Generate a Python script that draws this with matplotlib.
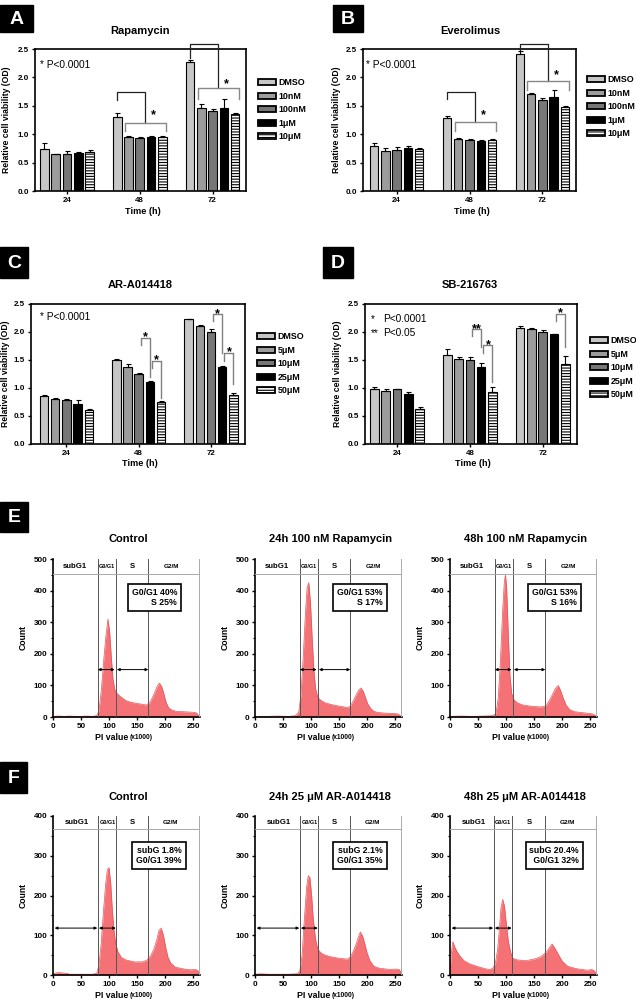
import numpy as np
import matplotlib
matplotlib.use('Agg')
import matplotlib.pyplot as plt
from matplotlib.patches import Rectangle, Patch
from matplotlib.ticker import FormatStrFormatter, MultipleLocator

plt.rcParams['font.family'] = ['Liberation Sans', 'DejaVu Sans']
plt.rcParams['hatch.linewidth'] = 0.8

# ---------------- data: viability bar charts ----------------
times = ['24', '48', '72']
rapa_labels = ['DMSO', '10nM', '100nM', '1μM', '10μM']
rapa_vals = [[0.74, 1.31, 2.27], [0.65, 0.95, 1.46], [0.66, 0.94, 1.41], [0.67, 0.95, 1.46], [0.69, 0.95, 1.36]]
rapa_errs = [[0.10, 0.06, 0.04], [0.01, 0.01, 0.07], [0.05, 0.01, 0.03], [0.01, 0.01, 0.16], [0.03, 0.01, 0.01]]

everol_labels = ['DMSO', '10nM', '100nM', '1μM', '10μM']
everol_vals = [[0.80, 1.29, 2.41], [0.71, 0.91, 1.71], [0.72, 0.89, 1.61], [0.75, 0.88, 1.65], [0.74, 0.90, 1.48]]
everol_errs = [[0.05, 0.03, 0.05], [0.04, 0.02, 0.01], [0.05, 0.02, 0.03], [0.05, 0.01, 0.13], [0.01, 0.01, 0.02]]

ar_labels = ['DMSO', '5μM', '10μM', '25μM', '50μM']
ar_vals = [[0.85, 1.50, 2.23], [0.81, 1.37, 2.11], [0.78, 1.25, 2.00], [0.72, 1.10, 1.38], [0.61, 0.75, 0.88]]
ar_errs = [[0.03, 0.01, 0.01], [0.02, 0.05, 0.01], [0.02, 0.01, 0.05], [0.06, 0.03, 0.02], [0.01, 0.01, 0.03]]

sb_labels = ['DMSO', '5μM', '10μM', '25μM', '50μM']
sb_vals = [[0.99, 1.59, 2.08], [0.95, 1.52, 2.05], [0.98, 1.50, 2.00], [0.89, 1.38, 1.96], [0.62, 0.92, 1.42]]
sb_errs = [[0.03, 0.10, 0.02], [0.03, 0.04, 0.03], [0.01, 0.05, 0.03], [0.03, 0.07, 0.01], [0.04, 0.10, 0.15]]

# group brackets (A,B): group, y_start, y_top, y_mid, y_low, y_star
rapa_brackets = [(1, 1.60, 1.75, 1.20, 1.05, 1.40), (2, 2.35, 2.58, 1.81, 1.62, 1.95)]
everol_brackets = [(1, 1.62, 1.75, 1.21, 1.06, 1.40), (2, 2.48, 2.58, 1.93, 1.77, 2.11)]
# pair brackets (C,D): group, bar_i, bar_j, y_left, y_top, y_right, label
ar_pairs = [(1, 2, 3, 1.77, 1.90, 1.20, '*'), (1, 3, 4, 1.35, 1.49, 0.82, '*'),
            (2, 2, 3, 2.20, 2.32, 1.62, '*'), (2, 3, 4, 1.49, 1.63, 1.08, '*')]
sb_pairs = [(1, 2, 3, 1.92, 2.05, 1.74, '**'), (1, 3, 4, 1.62, 1.77, 1.11, '*'),
            (2, 3, 4, 2.20, 2.33, 1.74, '*')]

# ---------------- data: cell-cycle histograms (PI x1000, count) ----------------
e1_x = [0, 10, 20, 30, 40, 50, 60, 70, 78, 82, 86, 90, 94, 98, 101, 104, 107, 110, 114, 120, 130, 140, 150, 160, 166, 172, 177, 182, 186, 190, 194, 198, 202, 206, 212, 220, 230, 240, 250, 256, 260]
e1_y = [2, 3, 2, 3, 2, 2, 3, 2, 4, 20, 80, 170, 250, 310, 270, 190, 120, 88, 75, 65, 52, 46, 43, 40, 38, 44, 60, 80, 98, 107, 96, 72, 45, 30, 22, 18, 17, 16, 15, 13, 4]
e2_x = [0, 20, 40, 60, 72, 78, 82, 86, 90, 93, 96, 99, 102, 105, 108, 112, 118, 125, 135, 145, 155, 165, 170, 175, 180, 185, 189, 193, 197, 201, 206, 212, 220, 235, 250, 256, 260]
e2_y = [2, 2, 3, 2, 4, 15, 70, 190, 330, 410, 425, 360, 250, 150, 90, 62, 52, 45, 40, 36, 33, 30, 34, 50, 68, 85, 92, 82, 62, 42, 28, 18, 14, 12, 11, 9, 3]
e3_x = [0, 20, 40, 60, 75, 82, 86, 90, 94, 97, 99, 101, 104, 107, 110, 114, 120, 130, 145, 160, 168, 172, 178, 183, 188, 193, 197, 202, 207, 213, 222, 235, 250, 256, 260]
e3_y = [2, 3, 2, 3, 4, 10, 60, 180, 340, 430, 450, 410, 260, 130, 75, 55, 45, 38, 34, 32, 33, 38, 55, 72, 90, 100, 85, 60, 38, 24, 17, 14, 11, 9, 3]
f1_x = [0, 4, 10, 18, 25, 30, 40, 55, 70, 78, 82, 86, 90, 94, 97, 100, 103, 106, 109, 112, 116, 122, 130, 145, 160, 168, 174, 180, 185, 189, 193, 197, 201, 205, 210, 218, 230, 245, 253, 258, 261]
f1_y = [2, 5, 6, 5, 4, 2, 2, 2, 2, 4, 25, 80, 160, 230, 265, 270, 230, 160, 110, 78, 58, 44, 38, 33, 33, 38, 48, 65, 88, 112, 118, 100, 70, 45, 30, 20, 16, 13, 14, 12, 3]
f2_x = [0, 10, 25, 40, 60, 75, 80, 84, 88, 92, 95, 98, 101, 104, 108, 112, 118, 125, 135, 150, 165, 170, 176, 181, 185, 188, 192, 196, 200, 205, 212, 222, 240, 252, 258, 261]
f2_y = [2, 3, 2, 2, 2, 3, 10, 50, 140, 220, 250, 245, 200, 140, 90, 65, 55, 50, 46, 42, 40, 45, 62, 80, 98, 108, 98, 78, 55, 36, 22, 17, 14, 15, 13, 3]
f3_x = [0, 2, 5, 8, 12, 18, 25, 35, 50, 65, 72, 77, 81, 85, 88, 91, 94, 97, 100, 104, 108, 112, 120, 135, 150, 162, 172, 178, 182, 186, 192, 200, 210, 225, 245, 253, 258, 261]
f3_y = [5, 50, 84, 72, 60, 47, 36, 28, 21, 15, 14, 18, 30, 65, 115, 170, 190, 175, 135, 85, 58, 42, 38, 36, 40, 46, 58, 70, 78, 70, 55, 35, 22, 16, 12, 14, 10, 3]

phase_labels = ['subG1', 'G0/G1', 'S', 'G2/M']
e_gates = [80, 112, 170]
f_gates = [81, 113, 170]
e_titles = ['Control', '24h 100 nM Rapamycin', '48h 100 nM Rapamycin']
f_titles = ['Control', '24h 25 μM AR-A014418', '48h 25 μM AR-A014418']
e_boxes = ['G0/G1 40%\nS 25%', 'G0/G1 53%\nS 17%', 'G0/G1 53%\nS 16%']
f_boxes = ['subG 1.8%\nG0/G1 39%', 'subG 2.1%\nG0/G1 35%', 'subG 20.4%\n G0/G1 32%']

# ---------------- layout helpers ----------------
W, H = 636, 1000
fig = plt.figure(figsize=(W / 100, H / 100), dpi=100)


def add_ax(l, t, r, b):
    return fig.add_axes([l / W, 1 - b / H, (r - l) / W, (b - t) / H])


def ftext(x, y, s, **kw):
    return fig.text(x / W, 1 - y / H, s, **kw)


def panel_label(letter, l, t, r, b):
    fig.add_artist(Rectangle((l / W, 1 - b / H), (r - l) / W, (b - t) / H,
                             transform=fig.transFigure, color='black', zorder=5))
    ftext((l + r) / 2, (t + b) / 2 + 1, letter, color='white', fontsize=14,
          fontweight='bold', ha='center', va='center', zorder=6)


colors = ['#c6c6c6', '#9c9c9c', '#777777', '#000000', '#ffffff']
hatches = [None, None, None, None, '------']
offs = (np.arange(5) - 2) * 0.155
bw = 0.118


def bar_panel(rect, title, title_xy, labels, vals, errs, xlim, leg_xy,
              ylab_x, xlab_y):
    ax = add_ax(*rect)
    x = np.arange(len(times))
    for j in range(5):
        ax.bar(x + offs[j], vals[j], width=bw, color=colors[j], edgecolor='black',
               linewidth=0.8, hatch=hatches[j],
               yerr=[np.zeros(len(times)), errs[j]],
               error_kw=dict(ecolor='black', elinewidth=0.8, capsize=1.8, capthick=0.8),
               zorder=2)
    ax.set_xlim(*xlim)
    ax.set_ylim(0, 2.5)
    ax.set_xticks(x)
    ax.set_xticklabels(times)
    ax.set_yticks(np.arange(0, 2.51, 0.5))
    ax.yaxis.set_major_formatter(FormatStrFormatter('%.1f'))
    for s in ax.spines.values():
        s.set_linewidth(1.2)
    ax.tick_params(length=2.5, width=1, labelsize=5.8, pad=2)
    for lab in ax.get_xticklabels() + ax.get_yticklabels():
        lab.set_fontweight('bold')
    l, t, r, b = rect
    ftext(title_xy[0], title_xy[1], title, fontsize=8, fontweight='bold', ha='center', va='center')
    ftext(ylab_x, (t + b) / 2, 'Relative cell viability (OD)', fontsize=6.2,
          fontweight='bold', rotation=90, ha='center', va='center')
    ftext((l + r) / 2 + 2, xlab_y, 'Time (h)', fontsize=6.6, fontweight='bold',
          ha='center', va='center')
    handles = [Patch(facecolor=colors[j], edgecolor='black', hatch=hatches[j],
                     linewidth=1.3, label=labels[j]) for j in range(5)]
    ax.legend(handles=handles, loc='upper left', bbox_to_anchor=(leg_xy[0] / W, 1 - leg_xy[1] / H),
              bbox_transform=fig.transFigure, frameon=False, borderpad=0,
              handlelength=2.0, handleheight=0.65, handletextpad=0.25, labelspacing=0.5,
              prop=dict(size=6.4, weight='bold'))
    return ax


def group_brackets(ax, brackets):
    for g, y0, ytop, ymid, ylow, ystar in brackets:
        xs = g + offs
        xc = (xs[1] + xs[4]) / 2
        ax.plot([xs[0], xs[0], xc, xc], [y0, ytop, ytop, ymid], color='#222222',
                lw=0.9, clip_on=False, zorder=3)
        ax.plot([xs[1] - 0.05, xs[1] - 0.05, xs[4] + 0.05, xs[4] + 0.05],
                [ylow, ymid, ymid, ylow], color='#888888', lw=1.0, clip_on=False, zorder=3)
        ax.text(xc + 0.11, ystar - 0.12, '*', ha='center', va='baseline', fontsize=9,
                fontweight='bold', zorder=4)


def pair_brackets(ax, pairs):
    for g, i, j, yl, yt, yr, lab in pairs:
        xi = g + offs[i] + 0.03
        xj = g + offs[j]
        ax.plot([xi, xi, xj, xj], [yl, yt, yt, yr], color='#808080', lw=1.0,
                clip_on=False, zorder=3)
        ax.text((xi + xj) / 2, yt - 0.05, lab, ha='center', va='baseline', fontsize=9,
                fontweight='bold', zorder=4)


# ---- A ----
panel_label('A', 0, 5, 33, 32)
axA = bar_panel((35, 49, 246, 191), 'Rapamycin', (140, 31), rapa_labels, rapa_vals, rapa_errs,
                (-0.44, 2.46), (254, 74), 6.5, 211)
group_brackets(axA, rapa_brackets)
axA.text(0.025, 0.885, '* P<0.0001', transform=axA.transAxes, fontsize=7.3, va='center')

# ---- B ----
panel_label('B', 333, 5, 363, 32)
axB = bar_panel((363, 49, 576, 191), 'Everolimus', (470, 31), everol_labels, everol_vals, everol_errs,
                (-0.46, 2.46), (583, 71), 336.5, 211)
group_brackets(axB, everol_brackets)
axB.text(0.014, 0.885, '* P<0.0001', transform=axB.transAxes, fontsize=7.3, va='center')

# ---- C ----
panel_label('C', 0, 247, 28, 278)
axC = bar_panel((31, 304, 245, 444), 'AR-A014418', (140, 285), ar_labels, ar_vals, ar_errs,
                (-0.49, 2.47), (253, 328), 6, 464)
pair_brackets(axC, ar_pairs)
axC.text(0.042, 0.905, '* P<0.0001', transform=axC.transAxes, fontsize=7.3, va='center')

# ---- D ----
panel_label('D', 323, 247, 353, 278)
axD = bar_panel((365, 304, 577, 444), 'SB-216763', (470, 285), sb_labels, sb_vals, sb_errs,
                (-0.44, 2.47), (586, 332), 337.5, 464)
pair_brackets(axD, sb_pairs)
axD.text(0.028, 0.895, '*', transform=axD.transAxes, fontsize=7.3, va='center')
axD.text(0.028, 0.795, '**', transform=axD.transAxes, fontsize=7.3, va='center')
axD.text(0.085, 0.895, 'P<0.0001', transform=axD.transAxes, fontsize=7.3, va='center')
axD.text(0.085, 0.795, 'P<0.05', transform=axD.transAxes, fontsize=7.3, va='center')


# ---------------- histograms ----------------
def hist_panel(left, top, bottom, title, title_y, xs, ys, ymax, gates, gate_y,
               lab_y, lab_x, arrows, arrow_y, box, box_xy, xlab_y):
    xr = 262
    right = left + xr * 0.5605
    ax = add_ax(left, top, right, bottom)
    ax.fill_between(xs, ys, 0, color='#f47276', lw=0, zorder=1)
    ax.plot(xs, ys, color='#e85558', lw=0.5, zorder=2)
    for gx in gates:
        ax.plot([gx, gx], [0, ymax], color='#555555', lw=0.7, zorder=3)
    ax.plot([260, 260], [0, ymax], color='#aaaaaa', lw=0.7, zorder=3)
    ax.plot([0, 260], [gate_y, gate_y], color='#aaaaaa', lw=0.7, zorder=3)
    sizes = [5.6, 4.0, 5.6, 4.6]
    for lx, lab, sz in zip(lab_x, phase_labels, sizes):
        ax.text(lx, lab_y, lab, fontsize=sz, fontweight='bold', ha='center', va='center')
    for a, b in arrows:
        ax.annotate('', xy=(b, arrow_y), xytext=(a, arrow_y),
                    arrowprops=dict(arrowstyle='<|-|>', color='black', lw=0.7,
                                    mutation_scale=4, shrinkA=0, shrinkB=0), zorder=4)
    ax.text(box_xy[0], box_xy[1], box, fontsize=6.3, fontweight='bold', ha='center',
            va='center', multialignment='right', zorder=5,
            bbox=dict(boxstyle='square,pad=0.45', fc='white', ec='black', lw=1.2))
    ax.set_xlim(0, xr)
    ax.set_ylim(0, ymax)
    ax.set_xticks([0, 50, 100, 150, 200, 250])
    ax.set_yticks(np.arange(0, ymax + 1, 100))
    ax.yaxis.set_minor_locator(MultipleLocator(50))
    ax.spines['top'].set_visible(False)
    ax.spines['right'].set_visible(False)
    ax.spines['left'].set_linewidth(1.2)
    ax.spines['bottom'].set_linewidth(1.2)
    ax.tick_params(length=2.5, width=1, labelsize=5.8, pad=1.5)
    ax.tick_params(which='minor', length=1.8, width=0.8)
    for lab in ax.get_xticklabels() + ax.get_yticklabels():
        lab.set_fontweight('bold')
    cx = (left + right) / 2
    ftext(cx + 2, title_y, title, fontsize=8, fontweight='bold', ha='center', va='center')
    ftext(left - 29.5, (top + bottom) / 2, 'Count', fontsize=6.2, fontweight='bold',
          rotation=90, ha='center', va='center')
    ftext(left + 75, xlab_y, 'PI value', fontsize=6.3, fontweight='bold', ha='right', va='center')
    ftext(left + 77, xlab_y + 0.5, '(x1000)', fontsize=4.8, fontweight='bold', ha='left', va='center')
    return ax


panel_label('E', 0, 502, 28, 532)
panel_label('F', 0, 762, 27, 793)
lefts = [53, 255, 450]
e_data = [(e1_x, e1_y), (e2_x, e2_y), (e3_x, e3_y)]
f_data = [(f1_x, f1_y), (f2_x, f2_y), (f3_x, f3_y)]
e_box_x = [181, 187, 186]
f_box_x = [189, 187, 186]
f3_gates = [79, 111, 169]
for k in range(3):
    hist_panel(lefts[k], 559, 717, e_titles[k], 539, e_data[k][0], e_data[k][1], 500,
               e_gates, 452, 475, [39, 96, 142, 212],
               [(80, 110), (114, 170)], 150, e_boxes[k], (e_box_x[k], 378), 737)
for k in range(3):
    g = f3_gates if k == 2 else f_gates
    hist_panel(lefts[k], 816, 975, f_titles[k], 797, f_data[k][0], f_data[k][1], 400,
               g, 367, 383, [42, (g[0] + g[1]) / 2, 142, 209],
               [(3, g[0] - 2), (g[0] + 1, g[1] - 1)], 118, f_boxes[k], (f_box_x[k], 300), 995)

fig.savefig('out.png', dpi=100)
